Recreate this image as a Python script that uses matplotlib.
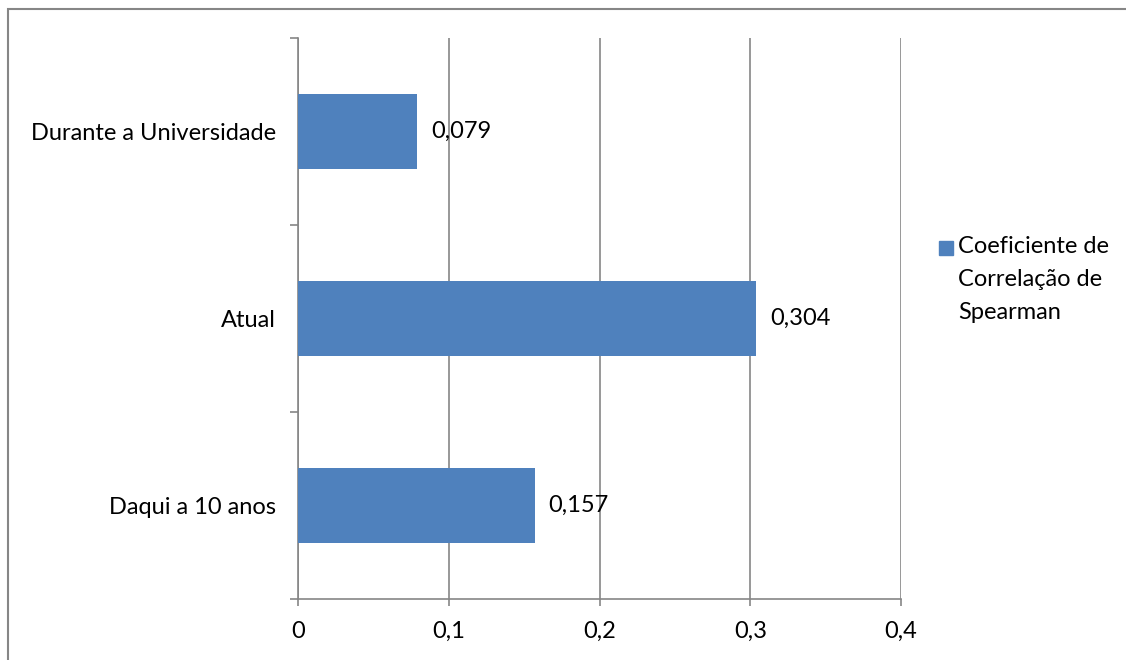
import matplotlib
matplotlib.use('Agg')
import matplotlib.pyplot as plt
from matplotlib.patches import Rectangle
from matplotlib.ticker import FixedLocator

categories = ["Daqui a 10 anos", "Atual", "Durante a Universidade"]
values = [0.157, 0.304, 0.079]
value_labels = ["0,157", "0,304", "0,079"]
x_ticks = [0, 0.1, 0.2, 0.3, 0.4]
x_tick_labels = ["0", "0,1", "0,2", "0,3", "0,4"]
series_name = "Coeficiente de\nCorrelação de\nSpearman"

BAR_COLOR = "#4F81BD"
AXIS_GRAY = "#868686"
FS = 17

plt.rcParams['font.family'] = ['Lato', 'DejaVu Sans']

fig = plt.figure(figsize=(11.26, 6.6), dpi=100)
ax = fig.add_axes([0.2647, 0.0924, 0.8002 - 0.2647, 0.9424 - 0.0924])

# outer chart border (right/bottom fall outside the picture)
fig.patches.append(Rectangle((8 / 1126, -0.1), 1.2, 1 - 9 / 660 + 0.1,
                             transform=fig.transFigure, fill=False,
                             edgecolor=AXIS_GRAY, linewidth=1.5))

pos = list(range(len(categories)))
ax.barh(pos, values, height=0.4, color=BAR_COLOR, zorder=3)

for p, v, lab in zip(pos, values, value_labels):
    ax.annotate(lab, (v, p), xytext=(10, 0), textcoords='offset points',
                va='center', ha='left', fontsize=FS, color='black')

ax.set_xlim(0, 0.4)
ax.set_ylim(-0.5, len(categories) - 0.5)
ax.set_xticks(x_ticks)
ax.set_xticklabels(x_tick_labels, fontsize=FS)
ax.set_yticks(pos)
ax.set_yticklabels(categories, fontsize=FS)
ax.yaxis.set_minor_locator(FixedLocator([-0.5, 0.5, 1.5, 2.5]))
ax.tick_params(axis='y', which='major', length=0, pad=16)
ax.tick_params(axis='y', which='minor', length=6, width=1.2, color=AXIS_GRAY)
ax.tick_params(axis='x', length=5, width=1.2, color=AXIS_GRAY, pad=11)

ax.grid(True, axis='x', color=AXIS_GRAY, linewidth=1.2, zorder=0)
for s in ['top', 'right']:
    ax.spines[s].set_visible(False)
for s in ['left', 'bottom']:
    ax.spines[s].set_color(AXIS_GRAY)
    ax.spines[s].set_linewidth(1.2)

# legend
fig.patches.append(Rectangle((939 / 1126, 1 - 255 / 660), 14 / 1126, 14 / 660,
                             transform=fig.transFigure, color=BAR_COLOR))
fig.text(958 / 1126, 1 - 236 / 660, series_name, ha='left', va='top',
         fontsize=FS, linespacing=1.72)

fig.savefig('out.png', dpi=100)
